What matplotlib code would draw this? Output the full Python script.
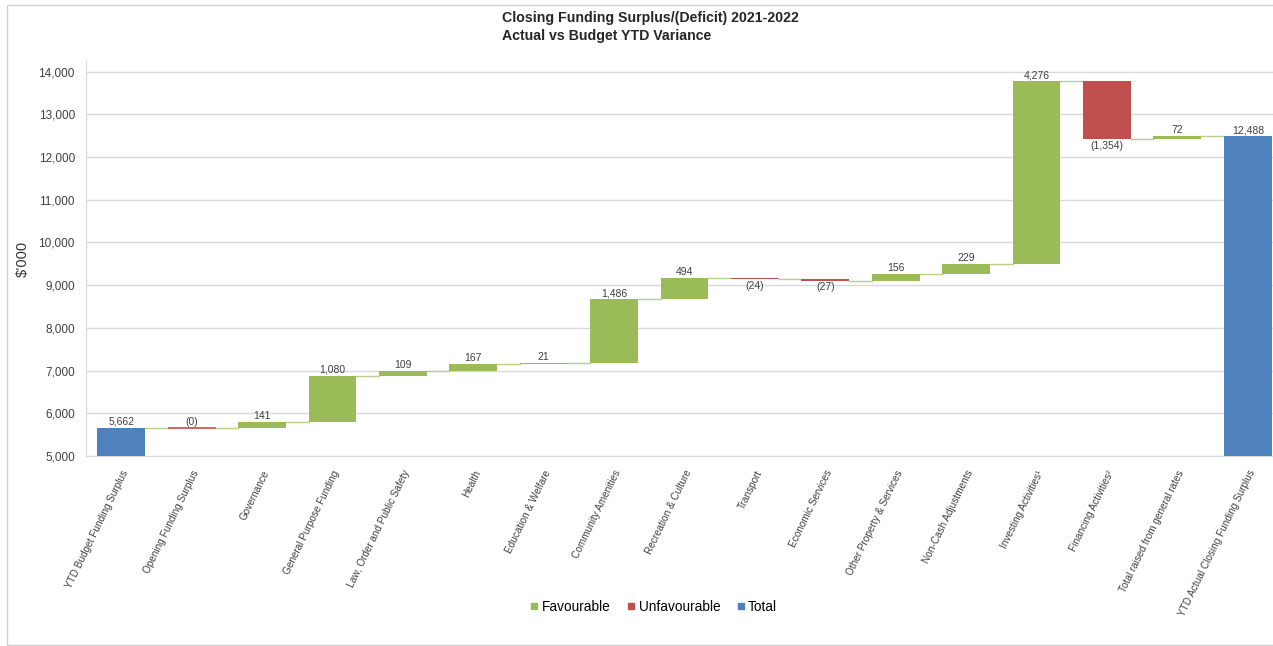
import matplotlib.pyplot as plt
from matplotlib.patches import Rectangle
from matplotlib.lines import Line2D

plt.rcParams['font.family'] = ['Liberation Sans', 'DejaVu Sans']

categories = [
    "YTD Budget Funding Surplus", "Opening Funding Surplus", "Governance",
    "General Purpose Funding", "Law, Order and Public Safety", "Health",
    "Education & Welfare", "Community Amenities", "Recreation & Culture",
    "Transport", "Economic Services", "Other Property & Services",
    "Non-Cash Adjustments", "Investing Activities\u00b9", "Financing Activities\u00b2",
    "Total raised from general rates", "YTD Actual Closing Funding Surplus",
]
# first and last entries are totals, the rest are variances
values = [5662, 0, 141, 1080, 109, 167, 21, 1486, 494, -24, -27, 156, 229,
          4276, -1354, 72, 12488]
labels = ["5,662", "(0)", "141", "1,080", "109", "167", "21", "1,486", "494",
          "(24)", "(27)", "156", "229", "4,276", "(1,354)", "72", "12,488"]
kinds = ["total"] + ["var"] * 15 + ["total"]

GREEN = "#9BBB59"
RED = "#C0504D"
BLUE = "#4F81BD"

fig = plt.figure(figsize=(12.73, 6.46), dpi=100)
ax = fig.add_axes([86 / 1273, 190 / 646, 1197 / 1273, 395 / 646])

bar_w = 0.68
running = 0
tops = []
for i, (v, kind) in enumerate(zip(values, kinds)):
    if kind == "total":
        bottom, height, color = 0, v, BLUE
        running = v
    else:
        bottom, height = running, v
        color = GREEN if v > 0 else RED
        running += v
    ax.bar(i, height, bottom=bottom, width=bar_w, color=color,
           edgecolor=color, linewidth=1.2 if v == 0 else 0, zorder=3)
    top = max(bottom, bottom + height)
    low = min(bottom, bottom + height)
    if v < 0:
        ax.text(i, low - 40, labels[i], ha="center", va="top",
                fontsize=7.5, color="#404040", zorder=4)
    else:
        ax.text(i, top + 25, labels[i], ha="center", va="bottom",
                fontsize=7.5, color="#404040", zorder=4)
    tops.append(running)

# connector lines between the bars
for i in range(len(values) - 1):
    ax.plot([i + bar_w / 2, i + 1 - bar_w / 2], [tops[i], tops[i]],
            color="#b5d08a", linewidth=1, zorder=2)

ax.set_ylim(5000, 14250)
ax.set_xlim(-0.5, len(values) - 0.5)
ax.set_yticks(range(5000, 14001, 1000))
ax.set_yticklabels([f"{t:,}" for t in range(5000, 14001, 1000)],
                   fontsize=8.5, color="#404040")
ax.yaxis.grid(True, color="#d9d9d9", linewidth=1, zorder=0)
ax.set_axisbelow(True)
ax.tick_params(length=0, pad=8)

ax.set_xticks(range(len(categories)))
ax.set_xticklabels(categories, rotation=64, ha="right", rotation_mode="anchor",
                   fontsize=7.2, color="#404040")
ax.tick_params(axis="x", pad=9)

for side in ["top", "right"]:
    ax.spines[side].set_visible(False)
ax.spines["left"].set_color("#d9d9d9")
ax.spines["bottom"].set_color("#d9d9d9")

ax.set_ylabel("\\$\u2019000", fontsize=10.5, color="#333333")
ax.yaxis.set_label_coords(-56 / 1197, 0.5)

title_lines = ["Closing Funding Surplus/(Deficit) 2021-2022",
               "Actual vs Budget YTD Variance"]
for k, line in enumerate(title_lines):
    fig.text(502 / 1273, 1 - (18 + 18 * k) / 646, line, ha="left",
             va="center", fontsize=10.2, fontweight="bold", color="#262626")

handles = [Line2D([], [], marker="s", linestyle="", color=c, markersize=5)
           for c in (GREEN, RED, BLUE)]
fig.legend(handles, ["Favourable", "Unfavourable", "Total"], loc="center",
           bbox_to_anchor=(0.513, 1 - 607 / 646), ncol=3, frameon=False,
           fontsize=9.8, handletextpad=0.15, columnspacing=1.1,
           handlelength=0.8)

# thin frame round the chart
fig.patches.append(Rectangle((7 / 1273, 1 / 646), 1.0, 1 - 6 / 646,
                             transform=fig.transFigure, fill=False,
                             edgecolor="#d0d0d0", linewidth=1))

fig.savefig("out.png", dpi=100)
